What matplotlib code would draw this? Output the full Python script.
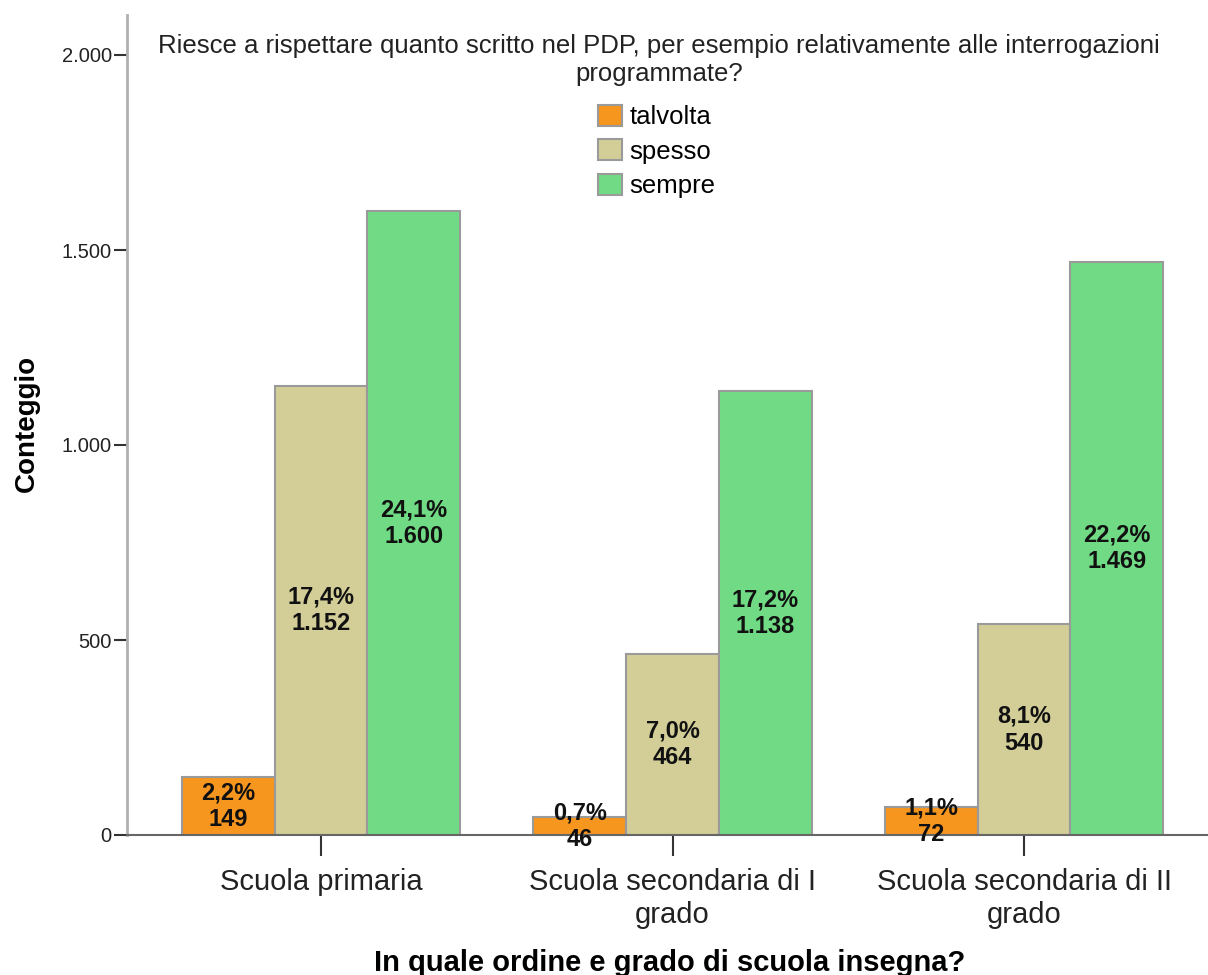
import matplotlib
matplotlib.use("Agg")
import matplotlib.pyplot as plt
import numpy as np
from matplotlib.ticker import FuncFormatter

categories = ["Scuola primaria", "Scuola secondaria di I\ngrado", "Scuola secondaria di II\ngrado"]
series_names = ["talvolta", "spesso", "sempre"]
talvolta = [149, 46, 72]
spesso = [1152, 464, 540]
sempre = [1600, 1138, 1469]
pct_talvolta = ["2,2%", "0,7%", "1,1%"]
pct_spesso = ["17,4%", "7,0%", "8,1%"]
pct_sempre = ["24,1%", "17,2%", "22,2%"]
colors = ["#F7961E", "#D3CE98", "#70DB84"]

plt.rcParams['font.family'] = ['Liberation Sans', 'DejaVu Sans']

W, H = 1208, 975
fig = plt.figure(figsize=(W/100, H/100), dpi=100)
left_px, right_px, bottom_px, top_px = 127, 1208, 835, 15
aw, ah = right_px-left_px, bottom_px-top_px
ax = fig.add_axes([left_px/W, 1-bottom_px/H, aw/W, ah/H])

def thousands(v):
    return f"{int(v):,}".replace(",", ".")

x = np.arange(len(categories))
bw = 0.2637
data = [talvolta, spesso, sempre]
pcts = [pct_talvolta, pct_spesso, pct_sempre]
for i, (vals, pc, col, name) in enumerate(zip(data, pcts, colors, series_names)):
    pos = x + (i-1)*bw
    ax.bar(pos, vals, width=bw, color=col, edgecolor="#9a9a9a", linewidth=1.5, label=name, zorder=2)
    for p, v, t in zip(pos, vals, pc):
        ax.text(p, v/2, f"{t}\n{thousands(v)}", ha="center", va="center",
                fontsize=17, fontweight="bold", linespacing=1.2, zorder=3, color="#111111")

xmin = -0.552
xmax = xmin + aw/351.5
ax.set_xlim(xmin, xmax)
ax.set_ylim(0, ah/0.39)
ax.set_yticks([0, 500, 1000, 1500, 2000])
ax.yaxis.set_major_formatter(FuncFormatter(lambda v, p: thousands(v)))
ax.set_xticks(x)
ax.set_xticklabels(categories, fontsize=21, color="#222222", linespacing=1.22)
ax.tick_params(axis="x", length=15, width=1.5, color="#333333", pad=9)
ax.tick_params(axis="y", length=9.5, width=1.5, color="#333333", labelsize=14.5, pad=1.5, labelcolor="#222222")

for s in ["top", "right"]:
    ax.spines[s].set_visible(False)
ax.spines["left"].set_color("#b0b0b0")
ax.spines["left"].set_linewidth(2)
ax.spines["bottom"].set_color("#666666")
ax.spines["bottom"].set_linewidth(1.5)

fig.text(27/W, 1-423/H, "Conteggio", ha="center", va="center", rotation=90,
         fontsize=20, fontweight="bold")
fig.text(670/W, 1-963/H, "In quale ordine e grado di scuola insegna?", ha="center", va="center",
         fontsize=21, fontweight="bold")
fig.text(659/W, 1-60/H, "Riesce a rispettare quanto scritto nel PDP, per esempio relativamente alle interrogazioni\nprogrammate?",
         ha="center", va="center", fontsize=18.5, color="#222222", linespacing=1.18)

leg = ax.legend(loc="upper left", bbox_to_anchor=((598-left_px)/aw, 1-(105-top_px)/ah),
                frameon=False, fontsize=18.5, handlelength=0.93, handleheight=0.86, handletextpad=0.3,
                labelspacing=0.4, borderpad=0, borderaxespad=0)

fig.savefig("out.png", dpi=100)
